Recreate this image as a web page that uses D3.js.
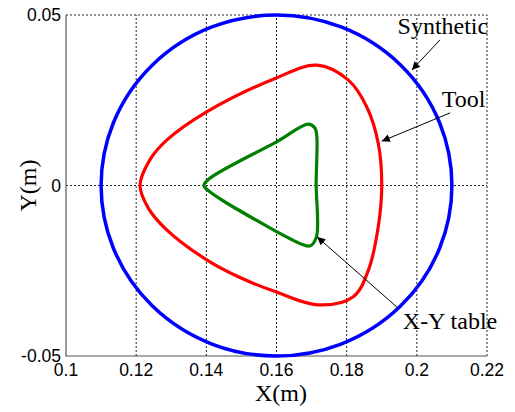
<!DOCTYPE html>
<html>
<head>
  <meta charset="utf-8">
  <script src="https://d3js.org/d3.v7.min.js"></script>
  <style>
    body { margin: 0; background: #fff; }
    .tick-label { font-family: "Liberation Sans", Arial, sans-serif; font-size: 17.5px; fill: #000; }
    .serif { font-family: "Liberation Serif", "Times New Roman", serif; font-size: 24px; fill: #000; }
  </style>
</head>
<body>
  <div id="chart"></div>
  <script>
    // Axis ticks
    const xTicks = [0.1, 0.12, 0.14, 0.16, 0.18, 0.2, 0.22];
    const yTicks = [-0.05, 0, 0.05];

    // Synthetic path: circle, centre and radius (m)
    const synthCenter = [0.16, 0];
    const synthRadius = 0.05;

    // Tool path (x, y in m)
    const toolX = [0.1211, 0.1235, 0.1287, 0.1401, 0.1496, 0.1596, 0.1719, 0.1819, 0.1862, 0.1890, 0.1900,
                   0.1890, 0.1857, 0.1805, 0.1715, 0.1596, 0.1401, 0.1287, 0.1239];
    const toolY = [0.0000, -0.0067, -0.0130, -0.0218, -0.0270, -0.0311, -0.0350, -0.0326, -0.0248, -0.0121, 0.0000,
                   0.0124, 0.0231, 0.0309, 0.0353, 0.0314, 0.0216, 0.0133, 0.0075];

    // X-Y table path (x, y in m)
    const tableX = [0.1393, 0.1410, 0.1600, 0.1676, 0.1696, 0.1714, 0.1713, 0.1715, 0.1710, 0.1691, 0.1600, 0.1410];
    const tableY = [0.0000, -0.0018, -0.0135, -0.0174, -0.0177, -0.0150, 0.0006, 0.0143, 0.0168, 0.0180, 0.0128, 0.0021];

    // Annotations: label, text anchor point, arrow tail and tip (m)
    const notes = [
      { text: 'Synthetic', tx: 0.1945, ty: 0.0444, x1: 0.2066, y1: 0.0427, x2: 0.1986, y2: 0.0339 },
      { text: 'Tool',      tx: 0.2071, ty: 0.0230, x1: 0.2095, y1: 0.0213, x2: 0.1900, y2: 0.0130 },
      { text: 'X-Y table', tx: 0.1960, ty: -0.0422, x1: 0.1946, y1: -0.0359, x2: 0.1716, y2: -0.0151 }
    ];

    const width = 515;
    const height = 412;
    const margin = { left: 66, right: 28, top: 15, bottom: 56 };

    const svg = d3.select('#chart')
      .append('svg')
      .attr('width', width)
      .attr('height', height);

    const x = d3.scaleLinear().domain([0.1, 0.22]).range([margin.left, width - margin.right]);
    const y = d3.scaleLinear().domain([-0.05, 0.05]).range([height - margin.bottom, margin.top]);

    // plain hyphen for negatives, like the original figure
    const fmt = d => String(d);

    svg.append('defs').append('marker')
      .attr('id', 'arrow')
      .attr('viewBox', '0 0 10 10')
      .attr('refX', 10).attr('refY', 5)
      .attr('markerWidth', 11).attr('markerHeight', 8)
      .attr('markerUnits', 'userSpaceOnUse')
      .attr('orient', 'auto')
      .append('path')
      .attr('d', 'M0,0 L10,5 L0,10 Z')
      .attr('fill', '#000');

    // Grid lines (dotted)
    svg.append('g').selectAll('line')
      .data(xTicks.slice(1))
      .enter().append('line')
      .attr('x1', d => x(d)).attr('x2', d => x(d))
      .attr('y1', y(-0.05)).attr('y2', y(0.05))
      .attr('stroke', '#222').attr('stroke-width', 1).attr('stroke-dasharray', '2,2');

    svg.append('g').selectAll('line')
      .data(yTicks.slice(1))
      .enter().append('line')
      .attr('x1', x(0.1)).attr('x2', x(0.22))
      .attr('y1', d => y(d)).attr('y2', d => y(d))
      .attr('stroke', '#222').attr('stroke-width', 1).attr('stroke-dasharray', '2,2');

    // Left and bottom axis lines
    svg.append('path')
      .attr('d', `M${x(0.1)},${y(0.05)} V${y(-0.05)} H${x(0.22)}`)
      .attr('fill', 'none').attr('stroke', '#555').attr('stroke-width', 1.2);

    // Tick labels
    svg.append('g').selectAll('text')
      .data(xTicks)
      .enter().append('text')
      .attr('class', 'tick-label')
      .attr('x', d => x(d))
      .attr('y', y(-0.05) + 20)
      .attr('text-anchor', 'middle')
      .text(fmt);

    svg.append('g').selectAll('text')
      .data(yTicks)
      .enter().append('text')
      .attr('class', 'tick-label')
      .attr('x', x(0.1) - 5)
      .attr('y', d => y(d) + 6)
      .attr('text-anchor', 'end')
      .text(fmt);

    // Synthetic circle
    svg.append('ellipse')
      .attr('cx', x(synthCenter[0])).attr('cy', y(synthCenter[1]))
      .attr('rx', x(synthCenter[0] + synthRadius) - x(synthCenter[0]))
      .attr('ry', y(synthCenter[1]) - y(synthCenter[1] + synthRadius))
      .attr('fill', 'none').attr('stroke', '#0000ff').attr('stroke-width', 3.5);

    const line = d3.line()
      .x(d => x(d[0]))
      .y(d => y(d[1]))
      .curve(d3.curveCatmullRomClosed.alpha(0.5));

    svg.append('path')
      .datum(d3.zip(toolX, toolY))
      .attr('d', line)
      .attr('fill', 'none').attr('stroke', '#ff0000').attr('stroke-width', 3.2);

    svg.append('path')
      .datum(d3.zip(tableX, tableY))
      .attr('d', line)
      .attr('fill', 'none').attr('stroke', '#008000').attr('stroke-width', 3.2);

    // Annotations
    svg.append('g').selectAll('line')
      .data(notes)
      .enter().append('line')
      .attr('x1', d => x(d.x1)).attr('y1', d => y(d.y1))
      .attr('x2', d => x(d.x2)).attr('y2', d => y(d.y2))
      .attr('stroke', '#000').attr('stroke-width', 1)
      .attr('marker-end', 'url(#arrow)');

    svg.append('g').selectAll('text')
      .data(notes)
      .enter().append('text')
      .attr('class', 'serif')
      .attr('x', d => x(d.tx)).attr('y', d => y(d.ty))
      .text(d => d.text);

    // Axis titles
    svg.append('text')
      .attr('class', 'serif')
      .attr('x', 281).attr('y', 401)
      .attr('text-anchor', 'middle')
      .text('X(m)');

    svg.append('text')
      .attr('class', 'serif')
      .attr('transform', `translate(36, ${y(0)}) rotate(-90)`)
      .attr('text-anchor', 'middle')
      .text('Y(m)');
  </script>
</body>
</html>
